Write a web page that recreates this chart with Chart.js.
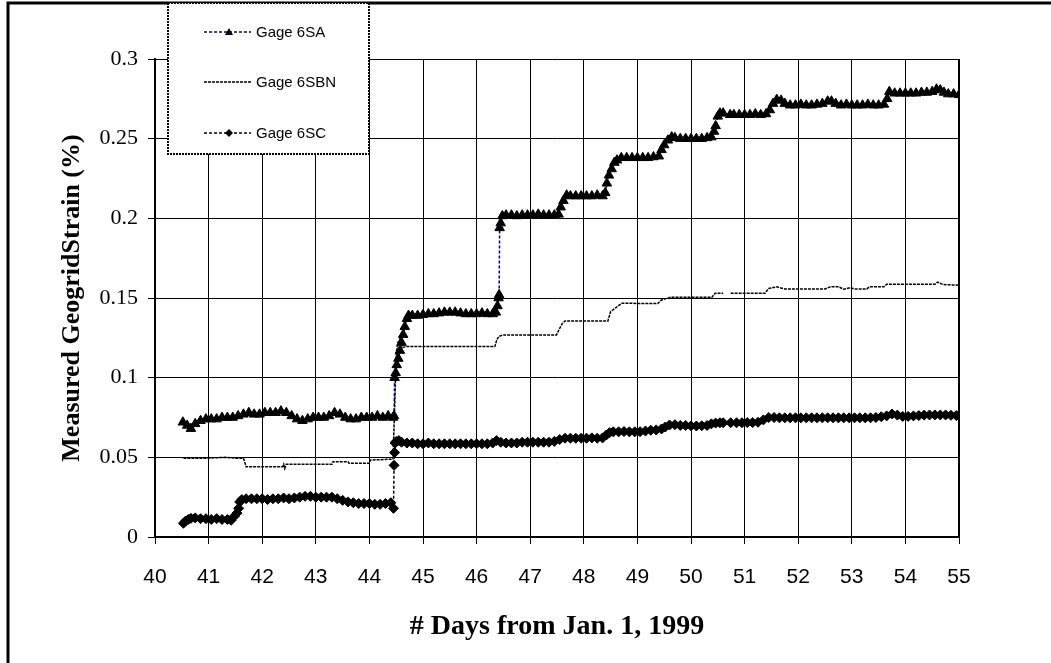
<!DOCTYPE html>
<html>
<head>
<meta charset="utf-8">
<script src="https://cdn.jsdelivr.net/npm/chart.js@4"></script>
<style>
  html, body { margin: 0; padding: 0; background: #fff; }
  #wrap { width: 1051px; height: 663px; }
</style>
</head>
<body>
<div id="wrap"><canvas id="strain-chart" width="1051" height="663"></canvas></div>
<script>
// Gage 6SA (triangles)
const saDays = [40.52, 40.6, 40.67, 40.75, 40.85, 40.95, 41.05, 41.15, 41.25, 41.35, 41.45, 41.55, 41.65, 41.75, 41.85, 41.95,
  42.05, 42.15, 42.25, 42.35, 42.45, 42.55, 42.65, 42.75, 42.85, 42.95, 43.05, 43.15, 43.25, 43.35, 43.45, 43.55, 43.65, 43.75,
  43.85, 43.95, 44.05, 44.15, 44.25, 44.35, 44.44, 44.46, 44.47, 44.49, 44.51, 44.54, 44.57, 44.6, 44.63, 44.66, 44.7, 44.73,
  44.8, 44.9, 45.0, 45.1, 45.2, 45.3, 45.4, 45.5, 45.6, 45.7, 45.8, 45.9, 46.0, 46.1, 46.2, 46.3, 46.36, 46.39, 46.41, 46.42,
  46.43, 46.45, 46.48, 46.55, 46.65, 46.75, 46.85, 46.95, 47.05, 47.15, 47.25, 47.35, 47.45, 47.53, 47.57, 47.62, 47.68, 47.75,
  47.85, 47.95, 48.05, 48.15, 48.25, 48.35, 48.4, 48.43, 48.47, 48.52, 48.57, 48.62, 48.7, 48.8, 48.9, 49.0, 49.1, 49.2, 49.3,
  49.4, 49.45, 49.5, 49.57, 49.64, 49.7, 49.8, 49.9, 50.0, 50.1, 50.2, 50.3, 50.38, 50.43, 50.46, 50.5, 50.54, 50.6, 50.66,
  50.73, 50.8, 50.9, 51.0, 51.1, 51.2, 51.3, 51.4, 51.47, 51.53, 51.6, 51.68, 51.75, 51.85, 51.95, 52.05, 52.15, 52.25, 52.35,
  52.45, 52.55, 52.62, 52.7, 52.8, 52.9, 53.0, 53.1, 53.2, 53.3, 53.4, 53.5, 53.6, 53.66, 53.7, 53.8, 53.9, 54.0, 54.1, 54.2,
  54.3, 54.4, 54.5, 54.58, 54.65, 54.72, 54.8, 54.9, 55.0];
const saStrain = [0.072, 0.070, 0.068, 0.071, 0.073, 0.074, 0.074, 0.074, 0.075, 0.075, 0.075, 0.076, 0.077, 0.078, 0.077, 0.077,
  0.078, 0.078, 0.078, 0.079, 0.078, 0.076, 0.074, 0.073, 0.074, 0.075, 0.075, 0.075, 0.076, 0.078, 0.077, 0.075, 0.074, 0.074,
  0.075, 0.075, 0.075, 0.076, 0.075, 0.076, 0.075, 0.076, 0.100, 0.103, 0.108, 0.112, 0.117, 0.122, 0.127, 0.132, 0.137, 0.139,
  0.139, 0.139, 0.1395, 0.140, 0.140, 0.1405, 0.141, 0.141, 0.141, 0.1405, 0.140, 0.140, 0.140, 0.1405, 0.140, 0.140, 0.141, 0.145, 0.150, 0.152,
  0.194, 0.197, 0.2015, 0.202, 0.202, 0.2015, 0.202, 0.202, 0.202, 0.2025, 0.202, 0.202, 0.202, 0.2025, 0.207, 0.211, 0.2145, 0.214,
  0.214, 0.214, 0.214, 0.214, 0.2145, 0.214, 0.216, 0.222, 0.227, 0.231, 0.235, 0.2365, 0.238, 0.238, 0.238, 0.238, 0.238, 0.238, 0.2385,
  0.239, 0.243, 0.246, 0.249, 0.251, 0.2505, 0.250, 0.250, 0.250, 0.250, 0.250, 0.2505, 0.251, 0.2545, 0.258, 0.264, 0.266, 0.266, null,
  0.265, 0.265, 0.265, 0.265, 0.265, 0.2655, 0.265, 0.2655, 0.268, 0.272, 0.2745, 0.274, 0.272, 0.271, 0.271, 0.2715, 0.271, 0.271, 0.2715,
  0.272, 0.2735, 0.2735, 0.272, 0.271, 0.2715, 0.271, 0.271, 0.271, 0.2715, 0.271, 0.271, 0.2715, 0.275, 0.2795, 0.2785, 0.2785, 0.2785, 0.2785, 0.2785,
  0.279, 0.279, 0.2795, 0.281, 0.2805, 0.279, 0.278, 0.278, 0.2775];

// Gage 6SBN (plain dotted line)
const sbnDays = [40.53, 41.0, 41.3, 41.5, 41.65, 41.7, 42.38, 42.4, 42.42, 42.45, 43.3, 43.32, 43.6, 43.62, 44.0, 44.02, 44.4,
  44.44, 44.47, 44.5, 44.53, 44.58, 44.62, 44.7, 46.34, 46.38, 46.42, 46.5, 47.49, 47.55, 47.6, 47.65, 48.45, 48.5, 48.6, 48.71,
  49.38, 49.45, 49.62, 50.39, 50.45, 50.6, 50.66, 50.74, 51.38, 51.45, 51.6, 51.75, 52.5, 52.6, 52.75, 52.85, 52.97, 53.05, 53.28,
  53.33, 53.6, 53.65, 54.55, 54.6, 54.7, 55.0];
const sbnStrain = [0.0494, 0.0495, 0.050, 0.0495, 0.0494, 0.0441, 0.0441, 0.0456, 0.043, 0.0456, 0.0456, 0.0473, 0.0473, 0.0463, 0.0463, 0.0483, 0.0488,
  0.049, 0.080, 0.115, 0.122, 0.125, 0.119, 0.1195, 0.1195, 0.124, 0.126, 0.1268, 0.1268, 0.131, 0.134, 0.1356, 0.1356, 0.1414, 0.144, 0.1467,
  0.1465, 0.1488, 0.1505, 0.1505, 0.153, 0.153, null, 0.153, 0.153, 0.156, 0.157, 0.1557, 0.1557, 0.157, 0.157, 0.1555, 0.1565, 0.1557, 0.1557,
  0.157, 0.157, 0.1586, 0.1586, 0.160, 0.1585, 0.158];

// Gage 6SC (diamonds)
const scDays = [40.53, 40.57, 40.62, 40.67, 40.75, 40.85, 40.95, 41.05, 41.15, 41.25, 41.35, 41.42, 41.48, 41.53, 41.56, 41.58,
  41.62, 41.7, 41.8, 41.9, 42.0, 42.1, 42.2, 42.3, 42.4, 42.5, 42.6, 42.7, 42.8, 42.9, 43.0, 43.1, 43.2, 43.3, 43.4, 43.5, 43.6,
  43.7, 43.8, 43.9, 44.0, 44.1, 44.2, 44.3, 44.4, 44.45, 44.46, 44.47, 44.48, 44.5, 44.55, 44.6, 44.7, 44.8, 44.9, 45.0, 45.1,
  45.2, 45.3, 45.4, 45.5, 45.6, 45.7, 45.8, 45.9, 46.0, 46.1, 46.2, 46.3, 46.37, 46.45, 46.55, 46.65, 46.75, 46.85, 46.95, 47.05,
  47.15, 47.25, 47.35, 47.45, 47.55, 47.65, 47.75, 47.85, 47.95, 48.05, 48.15, 48.25, 48.35, 48.42, 48.48, 48.55, 48.65, 48.75,
  48.85, 48.95, 49.05, 49.15, 49.25, 49.35, 49.45, 49.52, 49.6, 49.7, 49.8, 49.9, 50.0, 50.1, 50.2, 50.3, 50.38, 50.46, 50.54,
  50.6, 50.66, 50.74, 50.85, 50.95, 51.05, 51.15, 51.25, 51.35, 51.45, 51.55, 51.65, 51.75, 51.85, 51.95, 52.05, 52.15, 52.25,
  52.35, 52.45, 52.55, 52.65, 52.75, 52.85, 52.95, 53.05, 53.15, 53.25, 53.35, 53.45, 53.55, 53.65, 53.75, 53.85, 53.95, 54.05,
  54.15, 54.25, 54.35, 54.45, 54.55, 54.65, 54.75, 54.85, 54.95, 55.0];
const scStrain = [0.0086, 0.010, 0.011, 0.0117, 0.012, 0.0115, 0.0115, 0.011, 0.0115, 0.011, 0.011, 0.0105, 0.013, 0.015, 0.018, 0.022,
  0.0235, 0.024, 0.024, 0.024, 0.024, 0.0235, 0.024, 0.024, 0.0245, 0.024, 0.0245, 0.025, 0.0255, 0.0255, 0.025, 0.025, 0.025, 0.025, 0.024, 0.023, 0.022,
  0.0215, 0.021, 0.021, 0.021, 0.0205, 0.0205, 0.021, 0.0215, 0.018, 0.045, 0.053, 0.059, 0.060, 0.0605, 0.0595, 0.059, 0.059, 0.0585, 0.0585, 0.059,
  0.0585, 0.0585, 0.0585, 0.0585, 0.0585, 0.0585, 0.0585, 0.0585, 0.0585, 0.0585, 0.0585, 0.059, 0.0605, 0.0595, 0.059, 0.059, 0.059, 0.0595, 0.0595, 0.0595,
  0.0595, 0.0595, 0.0595, 0.060, 0.0612, 0.062, 0.062, 0.062, 0.062, 0.062, 0.0622, 0.062, 0.0622, 0.064, 0.0655, 0.066, 0.066, 0.0662,
  0.066, 0.066, 0.0661, 0.0665, 0.067, 0.0672, 0.0678, 0.069, 0.0703, 0.0705, 0.070, 0.070, 0.0697, 0.0697, 0.0698, 0.070, 0.071, 0.0715, 0.0717,
  0.0717, null, 0.0717, 0.0717, 0.0717, 0.0718, 0.0718, 0.072, 0.0735, 0.075, 0.075, 0.0748, 0.0748, 0.0748, 0.0748, 0.0748, 0.0748, 0.0748,
  0.0748, 0.0748, 0.0748, 0.0748, 0.0748, 0.0748, 0.0748, 0.0748, 0.0748, 0.0748, 0.0748, 0.075, 0.0755, 0.076, 0.0772, 0.0765, 0.0757, 0.0757, 0.076,
  0.0762, 0.0765, 0.0766, 0.0766, 0.0766, 0.0766, 0.0764, 0.0762, 0.0761, 0.0761];

const xTicks = [40, 41, 42, 43, 44, 45, 46, 47, 48, 49, 50, 51, 52, 53, 54, 55];
const yTicks = [0, 0.05, 0.1, 0.15, 0.2, 0.25, 0.3];
const seriesNames = ['Gage 6SA', 'Gage 6SBN', 'Gage 6SC'];

const toPoints = (days, vals) => days.map((d, i) => ({ x: d, y: vals[i] }));

const serif = '"Times New Roman", "Liberation Serif", serif';
const sans = 'Arial, "Liberation Sans", sans-serif';

// frame round the picture, right edge of plot, and the dotted legend box
const extras = {
    id: 'extras',
    afterDraw(chart) {
        const c = chart.ctx;
        const area = chart.chartArea;
        c.save();
        c.strokeStyle = '#000';

        c.lineWidth = 2;
        c.beginPath();
        c.moveTo(area.right, area.top);
        c.lineTo(area.right, area.bottom);
        c.stroke();

        c.lineWidth = 3;
        c.beginPath();
        c.moveTo(8, 663);
        c.lineTo(8, 3);
        c.lineTo(1051, 3);
        c.stroke();

        // legend
        c.fillStyle = '#fff';
        c.fillRect(168, 3, 201, 151);
        c.setLineDash([2, 1]);
        c.lineWidth = 2;
        c.strokeRect(168, 3, 201, 151);

        const rows = [32, 82, 133];
        chart.data.datasets.forEach((ds, i) => {
            const y = rows[i];
            c.setLineDash(ds.borderDash || []);
            c.lineWidth = 1.5;
            c.strokeStyle = ds.borderColor;
            c.beginPath();
            c.moveTo(204, y);
            c.lineTo(251, y);
            c.stroke();
            c.setLineDash([]);
            c.fillStyle = '#000';
            if (ds.pointStyle === 'triangle') {
                c.beginPath();
                c.moveTo(229, y - 4);
                c.lineTo(233, y + 3);
                c.lineTo(225, y + 3);
                c.closePath();
                c.fill();
            } else if (ds.pointStyle === 'rectRot' && ds.pointRadius > 0) {
                c.beginPath();
                c.moveTo(229, y - 4);
                c.lineTo(233, y);
                c.lineTo(229, y + 4);
                c.lineTo(225, y);
                c.closePath();
                c.fill();
            }
            c.font = '15px ' + sans;
            c.textBaseline = 'middle';
            c.fillText(ds.label, 256, y + 1);
        });
        c.restore();
    }
};

const ctx = document.getElementById('strain-chart').getContext('2d');
new Chart(ctx, {
    type: 'scatter',
    data: {
        datasets: [{
            label: seriesNames[0],
            data: toPoints(saDays, saStrain),
            showLine: true,
            borderColor: '#000080',
            borderWidth: 1.5,
            borderDash: [3, 2],
            pointStyle: 'triangle',
            pointRadius: 5.5,
            pointBackgroundColor: '#000',
            pointBorderColor: '#000',
            pointBorderWidth: 1
        }, {
            label: seriesNames[1],
            data: toPoints(sbnDays, sbnStrain),
            showLine: true,
            borderColor: '#000',
            borderWidth: 1.5,
            borderDash: [3, 1],
            pointRadius: 0
        }, {
            label: seriesNames[2],
            data: toPoints(scDays, scStrain),
            showLine: true,
            borderColor: '#000',
            borderWidth: 1.5,
            borderDash: [3, 2],
            pointStyle: 'rectRot',
            pointRadius: 5,
            pointBackgroundColor: '#000',
            pointBorderColor: '#000',
            pointBorderWidth: 1
        }]
    },
    options: {
        responsive: false,
        animation: false,
        devicePixelRatio: 1,
        layout: { padding: { left: 0, top: 59, right: 92, bottom: 0 } },
        plugins: { legend: { display: false }, tooltip: { enabled: false } },
        scales: {
            x: {
                type: 'linear',
                min: xTicks[0],
                max: xTicks[xTicks.length - 1],
                afterBuildTicks: s => { s.ticks = xTicks.map(v => ({ value: v })); },
                ticks: { color: '#000', font: { family: sans, size: 21 }, padding: 21, maxRotation: 0, autoSkip: false },
                grid: { color: '#000', lineWidth: 1, tickLength: 7 },
                border: { color: '#000', width: 2 },
                title: {
                    display: true,
                    text: '# Days from Jan. 1, 1999',
                    color: '#000',
                    font: { family: serif, size: 28, weight: 'bold' },
                    padding: { top: 0, bottom: 19 }
                },
                afterFit: s => { s.height = 126; }
            },
            y: {
                min: yTicks[0],
                max: yTicks[yTicks.length - 1],
                afterBuildTicks: s => { s.ticks = yTicks.map(v => ({ value: v })); },
                ticks: { color: '#000', font: { family: serif, size: 22 }, padding: 10, callback: v => String(+v.toFixed(2)) },
                grid: { color: '#000', lineWidth: 1, tickLength: 7 },
                border: { color: '#000', width: 2 },
                title: {
                    display: true,
                    text: 'Measured GeogridStrain (%)',
                    color: '#000',
                    font: { family: serif, size: 26, weight: 'bold' },
                    padding: { top: 57, bottom: 0 }
                },
                afterFit: s => { s.width = 155; }
            }
        }
    },
    plugins: [extras]
});
</script>
</body>
</html>
